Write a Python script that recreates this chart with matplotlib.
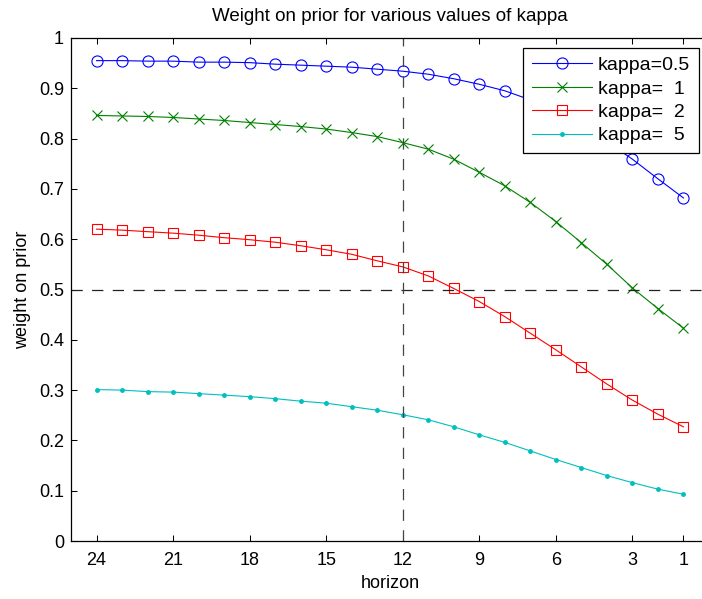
import matplotlib
matplotlib.use("Agg")
import matplotlib.pyplot as plt

plt.rcParams["font.family"] = ["Liberation Sans", "DejaVu Sans"]

horizon = list(range(24, 0, -1))

kappa_05 = [0.955, 0.955, 0.954, 0.954, 0.952, 0.952, 0.951, 0.948, 0.946, 0.944,
            0.942, 0.938, 0.934, 0.928, 0.919, 0.908, 0.895, 0.877, 0.854, 0.826,
            0.794, 0.759, 0.720, 0.682]
kappa_1 = [0.846, 0.845, 0.844, 0.842, 0.839, 0.836, 0.832, 0.828, 0.824, 0.819,
           0.812, 0.804, 0.792, 0.779, 0.759, 0.733, 0.706, 0.673, 0.635, 0.593,
           0.550, 0.503, 0.462, 0.423]
kappa_2 = [0.620, 0.618, 0.615, 0.612, 0.608, 0.603, 0.599, 0.594, 0.587, 0.579,
           0.570, 0.557, 0.545, 0.527, 0.502, 0.476, 0.446, 0.413, 0.380, 0.346,
           0.312, 0.280, 0.252, 0.227]
kappa_5 = [0.301, 0.300, 0.297, 0.296, 0.293, 0.290, 0.287, 0.283, 0.278, 0.274,
           0.267, 0.260, 0.251, 0.241, 0.227, 0.211, 0.196, 0.179, 0.162, 0.146,
           0.130, 0.116, 0.103, 0.093]

labels = ["kappa=0.5", "kappa=  1", "kappa=  2", "kappa=  5"]
xticks = [24, 21, 18, 15, 12, 9, 6, 3, 1]
yticks = [0, 0.1, 0.2, 0.3, 0.4, 0.5, 0.6, 0.7, 0.8, 0.9, 1]
ytick_labels = ["0", "0.1", "0.2", "0.3", "0.4", "0.5", "0.6", "0.7", "0.8", "0.9", "1"]

fig = plt.figure(figsize=(7.02, 5.99), dpi=100)
ax = fig.add_axes([71 / 702, 58 / 599, 638 / 702, 503 / 599])

lw = 0.8
ax.plot(horizon, kappa_05, color="#0000ff", lw=lw, marker="o", ms=8,
        mfc="none", mew=0.8, label=labels[0])
ax.plot(horizon, kappa_1, color="#008000", lw=lw, marker="x", ms=7,
        mew=0.8, label=labels[1])
ax.plot(horizon, kappa_2, color="#ff0000", lw=lw, marker="s", ms=7,
        mfc="none", mew=0.8, label=labels[2])
ax.plot(horizon, kappa_5, color="#00bfbf", lw=lw, marker=".", ms=5,
        label=labels[3])

ax.axhline(0.5, color="#222222", lw=0.9, ls=(0, (9, 7.5)))
ax.axvline(12, color="#444444", lw=0.9, ls=(0, (9, 7.5)))

ax.set_xlim(25, 0)
ax.set_ylim(0, 1)
ax.set_xticks(xticks)
ax.set_xticklabels([str(t) for t in xticks])
ax.set_yticks(yticks)
ax.set_yticklabels(ytick_labels)

ax.tick_params(direction="in", length=4.5, width=0.75, top=True, right=True,
               labelsize=13)
ax.tick_params(axis="x", pad=8)
ax.tick_params(axis="y", pad=5)
for s in ax.spines.values():
    s.set_linewidth(0.9)

ax.set_title("Weight on prior for various values of kappa", fontsize=13.5, pad=12)
ax.set_xlabel("horizon", fontsize=13, labelpad=4)
ax.set_ylabel("weight on prior", fontsize=13, labelpad=6)

leg = ax.legend(loc="upper right", bbox_to_anchor=(699 / 702, 1 - 47.7 / 599),
                bbox_transform=fig.transFigure, borderaxespad=0, fontsize=14,
                fancybox=False, framealpha=1, edgecolor="black",
                handlelength=3.1, handletextpad=0.3, labelspacing=0.3,
                borderpad=0.45, numpoints=1)
leg.get_frame().set_linewidth(0.9)

fig.savefig("out.png", dpi=100)
